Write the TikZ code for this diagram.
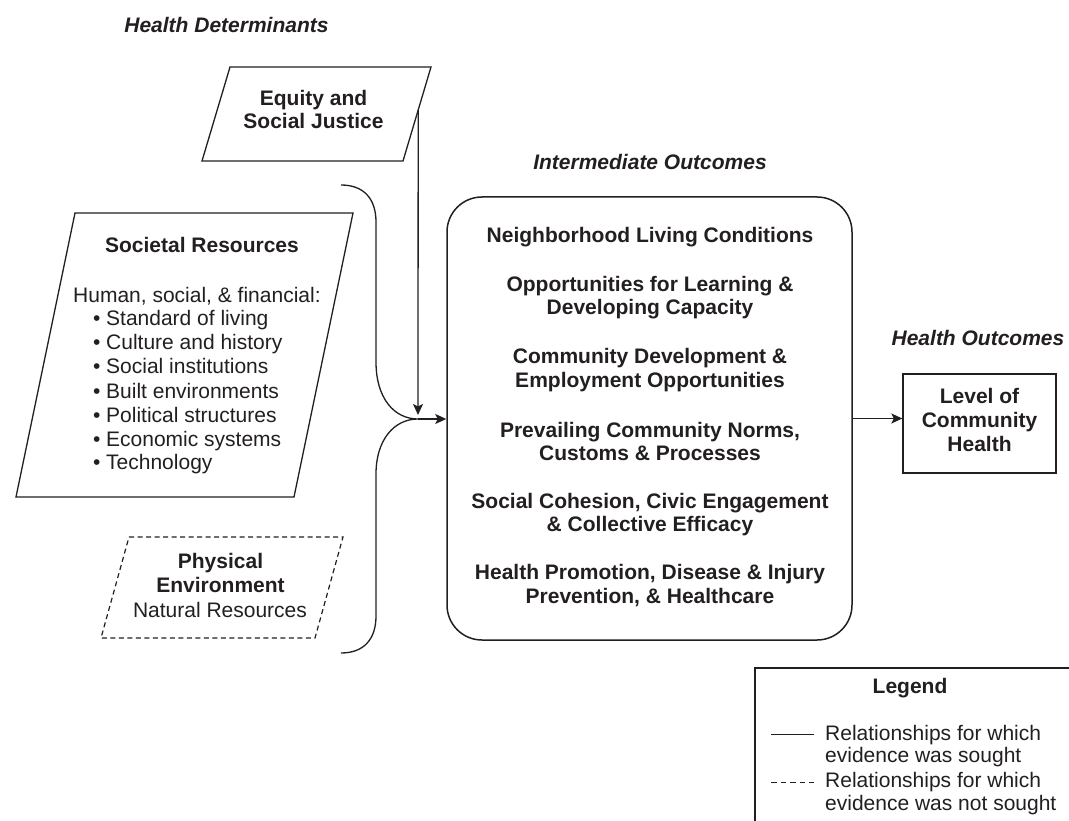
\documentclass[tikz,border=0pt]{standalone}
\usepackage{fontspec}
\setmainfont{Liberation Sans}
\usetikzlibrary{arrows.meta,calc}
\definecolor{ink}{HTML}{231F20}
\begin{document}
\begin{tikzpicture}[x=1pt,y=-1pt,
  txt/.style={inner sep=0pt, text=ink, font=\fontsize{21}{24}\selectfont},
  btxt/.style={inner sep=0pt, text=ink, font=\fontsize{21}{24}\selectfont\bfseries},
  head/.style={inner sep=0pt, text=ink, font=\fontsize{21}{24}\selectfont\bfseries\itshape},
  edge/.style={draw=ink, line width=1.3pt},
  arr/.style={draw=ink, line width=1.3pt, -{Stealth[length=11pt,width=10pt,inset=2.5pt]}},
  dashedge/.style={draw=ink, line width=1.2pt, dash pattern=on 5pt off 3.5pt},
  boxline/.style={draw=ink, line width=1.5pt}
]
\fill[white] (0,0) rectangle (1069,821);
\useasboundingbox (0,0) rectangle (1069,821);

% headings
\node[head, anchor=base] (hdet) at (226.5,33) {Health Determinants};
\node[head, anchor=base] (hint) at (650,170) {Intermediate Outcomes};
\node[head, anchor=base] (hout) at (978,345) {Health Outcomes};

% Equity and Social Justice
\coordinate (eqA) at (230,67);
\coordinate (eqB) at (431,67);
\coordinate (eqC) at (403,161);
\coordinate (eqD) at (202,161);
\draw[edge] (eqA) -- (eqB) -- (eqC) -- (eqD) -- cycle;
\node[btxt, anchor=base] (eq1) at (313.5,106) {Equity and};
\node[btxt, anchor=base] (eq2) at (313.5,129) {Social Justice};

% Societal Resources
\coordinate (srA) at (75,213);
\coordinate (srB) at (353,213);
\coordinate (srC) at (294,497);
\coordinate (srD) at (16,497);
\draw[edge] (srA) -- (srB) -- (srC) -- (srD) -- cycle;
\node[btxt, anchor=base] (sr0) at (202,253) {Societal Resources};
\node[txt, anchor=base west] (sr1) at (73,302) {Human, social, \& financial:};
\node[txt, anchor=base west] (sr2) at (93,325) {\makebox[13pt][l]{•}Standard of living};
\node[txt, anchor=base west] (sr3) at (93,349) {\makebox[13pt][l]{•}Culture and history};
\node[txt, anchor=base west] (sr4) at (93,373) {\makebox[13pt][l]{•}Social institutions};
\node[txt, anchor=base west] (sr5) at (93,398) {\makebox[13pt][l]{•}Built environments};
\node[txt, anchor=base west] (sr6) at (93,422) {\makebox[13pt][l]{•}Political structures};
\node[txt, anchor=base west] (sr7) at (93,446) {\makebox[13pt][l]{•}Economic systems};
\node[txt, anchor=base west] (sr8) at (93,469) {\makebox[13pt][l]{•}Technology};

% Physical Environment (dashed)
\coordinate (peA) at (129,537);
\coordinate (peB) at (343,537);
\coordinate (peC) at (315,638);
\coordinate (peD) at (101,638);
\draw[dashedge] (peA) -- (peB) -- (peC) -- (peD) -- cycle;
\node[btxt, anchor=base] (pe1) at (220.5,568) {Physical};
\node[btxt, anchor=base] (pe2) at (220.5,592) {Environment};
\node[txt, anchor=base] (pe3) at (220,617) {Natural Resources};

% brace
\coordinate (brT) at (341,185);
\coordinate (brB) at (341,653);
\coordinate (join) at (418,419);
\draw[edge] (brT) .. controls (364,185) and (376,199) .. (376,222)
  -- (376,362) .. controls (376,398) and (394,419) .. (join)
  .. controls (394,419) and (376,440) .. (376,474)
  -- (376,616) .. controls (376,639) and (364,653) .. (brB);

% vertical arrow from Equity
\coordinate (eqOut) at (418.2,110);
\coordinate (vtip) at (418,415);
\draw[arr] (eqOut) -- (vtip);

% intermediate outcomes box
\node[boxline, rounded corners=35pt, minimum width=405pt, minimum height=443pt, inner sep=0pt] (mid) at (649.5,418.5) {};
\draw[arr] (join) -- (join -| mid.west);
\node[btxt, anchor=base] (m1) at (650,243) {Neighborhood Living Conditions};
\node[btxt, anchor=base] (m2) at (650,292) {Opportunities for Learning \&};
\node[btxt, anchor=base] (m3) at (650,315) {Developing Capacity};
\node[btxt, anchor=base] (m4) at (650,363) {Community Development \&};
\node[btxt, anchor=base] (m5) at (650,387) {Employment Opportunities};
\node[btxt, anchor=base] (m6) at (650,437) {Prevailing Community Norms,};
\node[btxt, anchor=base] (m7) at (650,460) {Customs \& Processes};
\node[btxt, anchor=base] (m8) at (650,508) {Social Cohesion, Civic Engagement};
\node[btxt, anchor=base] (m9) at (650,531) {\& Collective Efficacy};
\node[btxt, anchor=base] (m10) at (650,579) {Health Promotion, Disease \& Injury};
\node[btxt, anchor=base] (m11) at (650,603) {Prevention, \& Healthcare};

% Level of Community Health
\node[edge, minimum width=153pt, minimum height=99pt, inner sep=0pt] (lvl) at (979.5,423.5) {};
\node[btxt, anchor=base] (l1) at (979.5,403) {Level of};
\node[btxt, anchor=base] (l2) at (979.5,427) {Community};
\node[btxt, anchor=base] (l3) at (979.5,451) {Health};
\draw[arr] (mid.east) -- (mid.east -| lvl.west);

% legend
\coordinate (lgBL) at (755,824);
\coordinate (lgTL) at (755,668);
\coordinate (lgTR) at (1072,668);
\draw[edge] (lgBL) -- (lgTL) -- (lgTR);
\node[btxt, anchor=base] (lgt) at (910,693) {Legend};
\coordinate (ls1) at (771,734);
\coordinate (ls2) at (814,734);
\draw[edge, line width=1pt] (ls1) -- (ls2);
\coordinate (ld1) at (771,782);
\coordinate (ld2) at (814,782);
\draw[draw=ink, line width=1pt, dash pattern=on 5.5pt off 4pt] (ld1) -- (ld2);
\node[txt, anchor=base west] (lg1) at (825,740) {Relationships for which};
\node[txt, anchor=base west] (lg2) at (825,762) {evidence was sought};
\node[txt, anchor=base west] (lg3) at (825,787) {Relationships for which};
\node[txt, anchor=base west] (lg4) at (825,810) {evidence was not sought};
\end{tikzpicture}
\end{document}
